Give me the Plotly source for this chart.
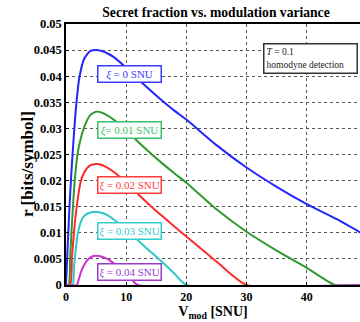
import plotly.graph_objects as go

# Secret key fraction r [bits/symbol] against modulation variance V_mod [SNU]
# for T = 0.1 with homodyne detection, one curve per excess noise level.
v_xi0 = [0, 0.3, 0.6, 1.0, 1.4, 1.7, 2.2, 3.0, 4.0, 5.0, 6.0, 7.0, 8.0, 10, 12, 14, 16, 18, 20, 25, 30, 35, 40, 45, 49]
r_xi0 = [0, 0.008, 0.0155, 0.0235, 0.0302, 0.0345, 0.0396, 0.0433, 0.0448, 0.0450, 0.0448, 0.0443, 0.0436, 0.0416, 0.0394, 0.0373, 0.0353, 0.0334, 0.0317, 0.0268, 0.0225, 0.0188, 0.0155, 0.0126, 0.0100]

v_xi1 = [0, 0.45, 0.7, 0.9, 1.2, 1.45, 1.9, 2.5, 3.1, 4.0, 5.0, 6.0, 7.0, 8.0, 10, 12, 14, 16, 18, 20, 25, 30, 35, 40, 44.7, 49]
r_xi1 = [0, 0, 0.0055, 0.0100, 0.0158, 0.0200, 0.0250, 0.0283, 0.0305, 0.0325, 0.0332, 0.0330, 0.0324, 0.0316, 0.0296, 0.0274, 0.0253, 0.0233, 0.0214, 0.0196, 0.0145, 0.0102, 0.0066, 0.0033, 0, 0]

v_xi2 = [0, 0.7, 1.0, 1.4, 1.8, 2.4, 3.0, 4.0, 5.0, 6.0, 7.0, 8.0, 10, 12, 14, 16, 18, 20, 25, 30, 49]
r_xi2 = [0, 0, 0.0055, 0.0110, 0.0152, 0.0196, 0.0215, 0.0229, 0.0232, 0.0230, 0.0224, 0.0216, 0.0196, 0.0174, 0.0152, 0.0132, 0.0112, 0.0093, 0.0045, 0, 0]

v_xi3 = [0, 1.1, 1.3, 1.5, 1.9, 2.5, 3.0, 4.0, 5.0, 6.0, 7.0, 8.0, 10, 12, 14, 16, 18, 20, 49]
r_xi3 = [0, 0, 0.003, 0.0055, 0.0095, 0.0122, 0.0132, 0.0139, 0.0140, 0.0138, 0.0133, 0.0125, 0.0106, 0.0085, 0.0064, 0.0044, 0.0022, 0, 0]

v_xi4 = [0, 1.8, 2.1, 2.5, 3.0, 3.6, 4.2, 5.0, 6.0, 7.0, 8.0, 9.0, 10, 11, 11.9, 49]
r_xi4 = [0, 0, 0.0010, 0.0025, 0.0038, 0.0048, 0.0054, 0.0056, 0.0054, 0.0049, 0.0041, 0.0031, 0.0021, 0.0010, 0, 0]

curve_colors = ["#2424ff", "#2e9a2e", "#ff2a2a", "#2ec8c8", "#cc33cc"]
label_colors = ["#3a3aff", "#3cbf6a", "#ff3a3a", "#33cccc", "#9a3acc"]
label_texts = ["<i>ξ</i> = 0 SNU", "<i>ξ</i>= 0.01 SNU", "<i>ξ</i> = 0.02 SNU",
               "<i>ξ</i> = 0.03 SNU", "<i>ξ</i> = 0.04 SNU"]
label_y = [0.0404, 0.0296, 0.0191, 0.0103, 0.00243]
label_x = 10.6

y_ticks = [0, 0.005, 0.01, 0.015, 0.02, 0.025, 0.03, 0.035, 0.04, 0.045, 0.05]
y_tick_text = ["0", "0.005", "0.01", "0.015", "0.02", "0.025", "0.03", "0.035", "0.04", "0.045", "0.05"]
x_ticks = [0, 10, 20, 30, 40, 50]

serif = "Liberation Serif"

# plot area in pixels
L, T, R, B = 66, 24, 360, 285
W, H = 360, 322

fig = go.Figure()
series = [(v_xi0, r_xi0), (v_xi1, r_xi1), (v_xi2, r_xi2), (v_xi3, r_xi3), (v_xi4, r_xi4)]
for (vx, ry), col in zip(series, curve_colors):
    fig.add_trace(go.Scatter(x=vx, y=ry, mode="lines",
                             line=dict(color=col, width=2, shape="spline", smoothing=0.6),
                             showlegend=False, hoverinfo="skip"))

for txt, yy, col in zip(label_texts, label_y, label_colors):
    fig.add_annotation(x=label_x, y=yy, xref="x", yref="y", text=txt,
                       showarrow=False, font=dict(family=serif, size=11, color=col),
                       bgcolor="white", bordercolor=col, borderwidth=1.5,
                       borderpad=1.5, width=59, height=12)

fig.add_annotation(x=40.66, y=0.04345, xref="x", yref="y",
                   text="<i>T</i> = 0.1<br>homodyne detection",
                   showarrow=False, align="left",
                   font=dict(family=serif, size=9.5, color="#222"),
                   bgcolor="white", bordercolor="#333", borderwidth=1.5,
                   borderpad=2, width=88, height=24)

# rotated y-axis title
fig.add_annotation(x=(27 - L) / (R - L), y=(B - 164) / (B - T),
                   xref="paper", yref="paper", xanchor="center", yanchor="middle",
                   text="<b>r [bits/symbol]</b>", textangle=-90, showarrow=False,
                   font=dict(family=serif, size=17, color="black"))

fig.update_layout(
    width=W, height=H,
    margin=dict(l=L, r=W - R, t=T, b=H - B),
    paper_bgcolor="white", plot_bgcolor="white",
    title=dict(text="<b>Secret fraction vs. modulation variance</b>",
               x=216 / W, xanchor="center", y=1 - 12 / H, yanchor="middle",
               xref="container", yref="container",
               font=dict(family=serif, size=13.6, color="black")),
    xaxis=dict(range=[0, 48.85], tickvals=x_ticks, ticks="inside", ticklen=3,
               tickcolor="black", showgrid=True, gridcolor="#555", griddash="dot",
               gridwidth=1, zeroline=False, showline=True, linecolor="black",
               linewidth=1.5, mirror=True,
               tickfont=dict(family=serif, size=12, color="black", weight="bold"),
               title=dict(text="<b>V<sub>mod</sub> [SNU]</b>", standoff=2,
                          font=dict(family=serif, size=14, color="black"))),
    yaxis=dict(range=[0, 0.05], tickvals=y_ticks, ticktext=y_tick_text,
               ticks="inside", ticklen=3, tickcolor="black",
               showgrid=True, gridcolor="#555", griddash="dot", gridwidth=1,
               zeroline=False, showline=True, linecolor="black", linewidth=1.5,
               tickfont=dict(family=serif, size=12.5, color="black", weight="bold")),
)

fig.write_html("out.html")
